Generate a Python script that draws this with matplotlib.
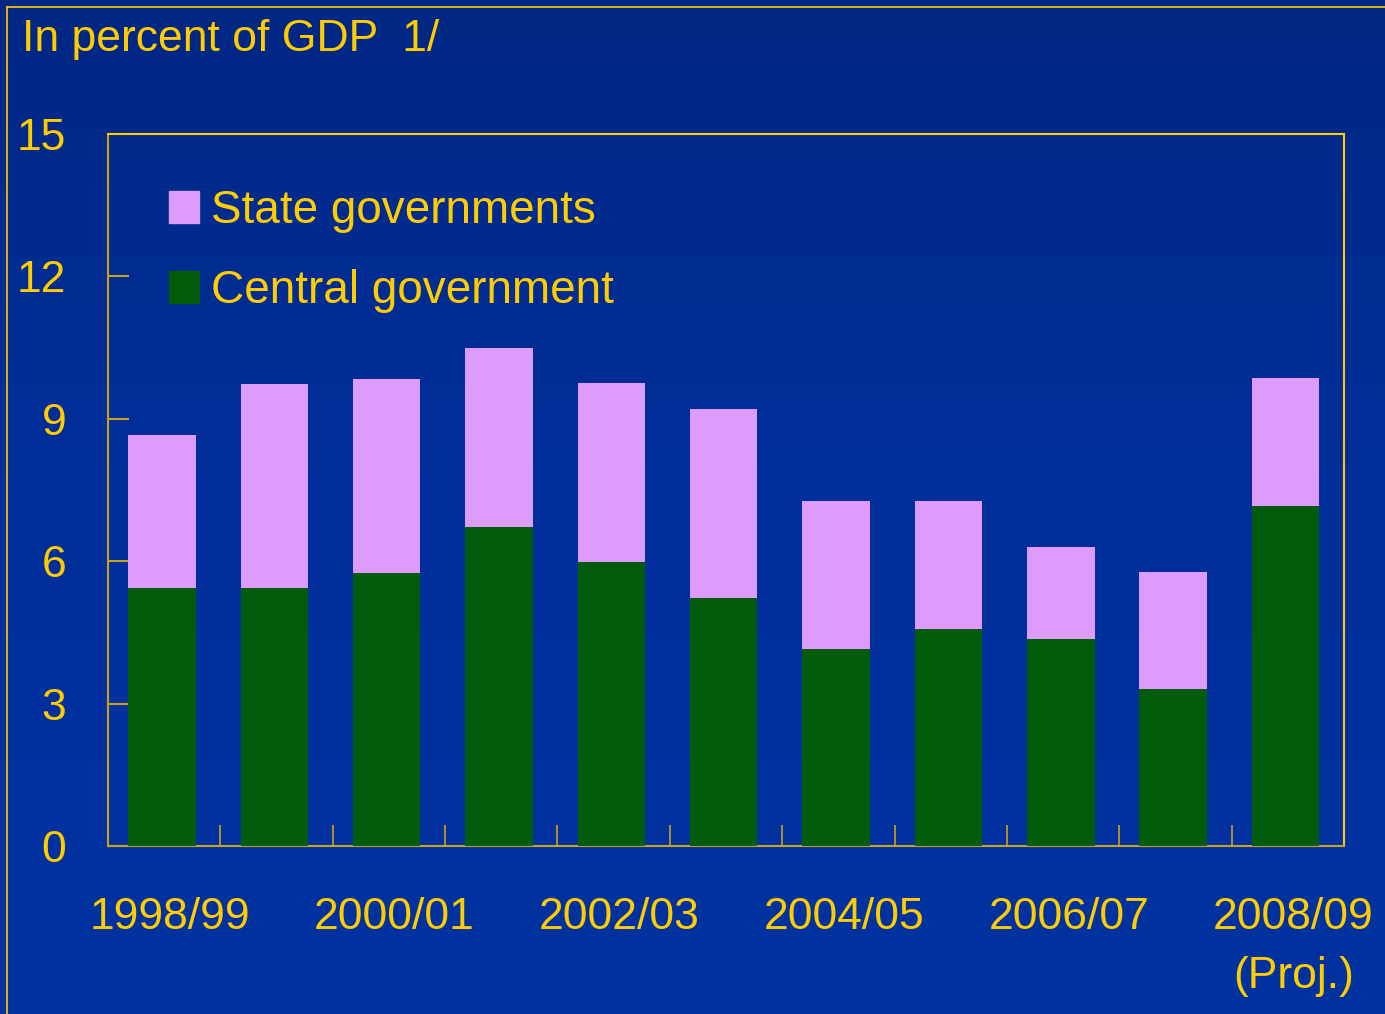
import matplotlib
matplotlib.use("Agg")
import matplotlib.pyplot as plt
import numpy as np
from matplotlib.patches import Patch
from matplotlib.lines import Line2D
from matplotlib.colors import LinearSegmentedColormap

plt.rcParams['font.family'] = ['Liberation Sans', 'DejaVu Sans']

years = ["1998/99", "1999/00", "2000/01", "2001/02", "2002/03", "2003/04",
         "2004/05", "2005/06", "2006/07", "2007/08", "2008/09"]
central = [5.43, 5.43, 5.75, 6.72, 5.98, 5.22, 4.15, 4.57, 4.36, 3.31, 7.16]
state = [3.23, 4.30, 4.09, 3.77, 3.77, 3.99, 3.12, 2.70, 1.94, 2.46, 2.70]
shown_labels = ["1998/99", "2000/01", "2002/03", "2004/05", "2006/07", "2008/09\n(Proj.)"]

yellow = "#ffcc00"
green = "#035c0c"
pink = "#dd9cfc"
spine_col = "#c9a21c"

fig = plt.figure(figsize=(13.85, 10.14), dpi=100)

# background gradient, darker at the top
bg = fig.add_axes([0, 0, 1, 1], zorder=-10)
grad = np.linspace(0, 1, 256).reshape(-1, 1)
cm = LinearSegmentedColormap.from_list("bg", ["#012783", "#002f9c", "#0033a0"])
bg.imshow(grad, aspect="auto", cmap=cm, extent=[0, 1, 0, 1], origin="upper")
bg.axis("off")

# thin frame around the slide
fig.add_artist(Line2D([7 / 1385, 1], [1 - 7 / 1014] * 2, color=yellow, lw=1.2))
fig.add_artist(Line2D([7 / 1385] * 2, [0, 1 - 7 / 1014], color=yellow, lw=1.2))

ax = fig.add_axes([108 / 1385, 1 - 846 / 1014, (1344 - 108) / 1385, (846 - 134) / 1014])
ax.set_facecolor("none")

x = np.arange(len(years))
ax.bar(x - 0.02, central, width=0.6, color=green, zorder=3)
ax.bar(x - 0.02, state, width=0.6, bottom=central, color=pink, zorder=3)

ax.set_xlim(-0.5, len(years) - 0.5)
ax.set_ylim(0, 15)
ax.set_yticks([0, 3, 6, 9, 12, 15])
ax.set_yticklabels(["0", "3", "6", "9", "12", "15"])
ax.tick_params(axis="y", direction="in", length=15, width=1.5, color=spine_col,
               labelcolor=yellow, labelsize=32, pad=30)

ax.set_xticks(x[:-1] + 0.5)
ax.set_xticklabels([])
ax.tick_params(axis="x", direction="in", length=15, width=1.2, color=spine_col)

for i, lab in zip(range(0, len(years), 2), shown_labels):
    ax.text(i + 0.05, -0.072, lab, transform=ax.get_xaxis_transform(), ha="center",
            va="top", color=yellow, fontsize=32, linespacing=1.55)

for s in ax.spines.values():
    s.set_color(spine_col)
    s.set_linewidth(1.5)
ax.spines["top"].set_color(yellow)
ax.spines["right"].set_color(yellow)

handles = [Patch(color=pink, label="State governments"),
           Patch(color=green, label="Central government")]
leg = ax.legend(handles=handles, loc="upper left", bbox_to_anchor=(0.016, 0.981),
                frameon=False, fontsize=33, labelcolor=yellow, handlelength=0.66,
                handleheight=0.7, handletextpad=0.25, labelspacing=0.8)

fig.text(22 / 1385, 1 - 40 / 1014, "In percent of GDP  1/", color=yellow,
         fontsize=32, va="center", ha="left")

fig.savefig("out.png", dpi=100)
